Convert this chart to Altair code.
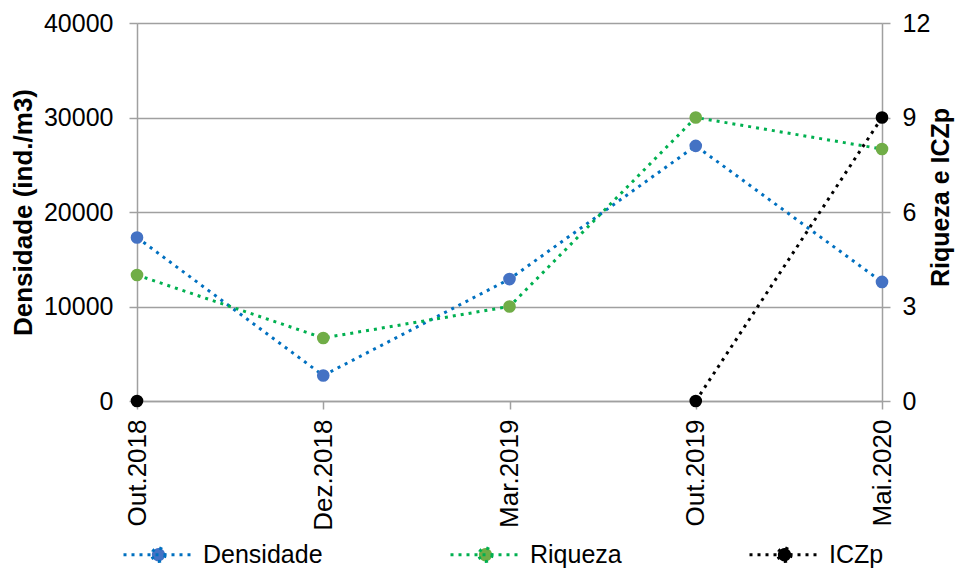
import math
import altair as alt
import pandas as pd

dates = ["Out.2018", "Dez.2018", "Mar.2019", "Out.2019", "Mai.2020"]
densidade = [17300, 2700, 12900, 27000, 12600]
riqueza = [4, 2, 3, 9, 8]
iczp = [0, None, None, 0, 9]

series_names = ["Densidade", "Riqueza", "ICZp"]
line_colors = ["#0070C0", "#00B050", "#000000"]
marker_colors = ["#4472C4", "#70AD47", "#000000"]

rows = []
for d, v in zip(dates, densidade):
    rows.append({"date": d, "series": "Densidade", "value": v})
for d, v in zip(dates, riqueza):
    rows.append({"date": d, "series": "Riqueza", "value": v})
for d, v in zip(dates, iczp):
    rows.append({"date": d, "series": "ICZp", "value": v})
df = pd.DataFrame(rows)

FONT = "Liberation Sans"
GRID = "#A0A0A0"

# legend symbol: dotted line with a filled circle in the middle
n = 24
rr = 0.19
circle = "M" + "L".join(
    f"{rr*math.cos(2*math.pi*k/n):.4f},{rr*math.sin(2*math.pi*k/n):.4f}" for k in range(n)
) + "Z"
sym_path = "M-1,0L1,0" + circle

def make_legend():
    return alt.Legend(
        orient="none", legendX=-15, legendY=495, direction="horizontal", title=None,
        symbolType=sym_path, symbolSize=4900, symbolStrokeWidth=3, symbolDash=[3, 5],
        symbolOpacity=1,
        labelFontSize=25, labelFont=FONT, labelColor="#000000", labelOffset=8,
        columnPadding=121, padding=0, labelLimit=400,
    )

x_enc = alt.X("date:N", sort=dates, scale=alt.Scale(type="point", padding=0),
              axis=alt.Axis(title=None, labelAngle=270, labelFontSize=26, labelFont=FONT,
                            labelColor="#000000", tickSize=8, tickColor=GRID, tickWidth=1.5,
                            domainColor=GRID, domainWidth=1.5, labelPadding=10, grid=False))
stroke_enc = alt.Stroke("series:N", scale=alt.Scale(domain=series_names, range=line_colors),
                        legend=make_legend())
fill_enc = alt.Fill("series:N", scale=alt.Scale(domain=series_names, range=marker_colors),
                    legend=make_legend())

y_left = alt.Y("value:Q", scale=alt.Scale(domain=[0, 40000], nice=False),
               axis=alt.Axis(orient="left", values=[0, 10000, 20000, 30000, 40000], format="d",
                             title="Densidade (ind./m3)", titleFontSize=26, titleFont=FONT,
                             titleFontWeight="bold", titleColor="#000000", titlePadding=7,
                             labelFontSize=25, labelFont=FONT, labelColor="#000000",
                             labelPadding=16, tickSize=8, tickColor=GRID, tickWidth=1.5,
                             domainColor=GRID, domainWidth=1.5,
                             grid=True, gridColor=GRID, gridWidth=1.5))
y_right = alt.Y("value:Q", scale=alt.Scale(domain=[0, 12], nice=False),
                axis=alt.Axis(orient="right", values=[0, 3, 6, 9, 12], format="d",
                              title="Riqueza e ICZp", titleFontSize=25, titleFont=FONT,
                              titleFontWeight="bold", titleColor="#000000",
                              titleAngle=270, titleX=46, titleY=174, titleBaseline="top",
                              titleAlign="center",
                              labelFontSize=25, labelFont=FONT, labelColor="#000000",
                              labelPadding=12, tickSize=8, tickColor=GRID, tickWidth=1.5,
                              domainColor=GRID, domainWidth=1.5, grid=False))

base = alt.Chart(df)
line_style = dict(strokeWidth=3, strokeDash=[3, 5], invalid="break-paths-filter-domains")

left_line = base.mark_line(**line_style).encode(x=x_enc, y=y_left, stroke=stroke_enc).transform_filter(
    alt.datum.series == "Densidade")
left_pts = base.mark_circle(size=160, opacity=1).encode(x=x_enc, y=y_left, fill=fill_enc).transform_filter(
    alt.datum.series == "Densidade")
right_line = base.mark_line(**line_style).encode(x=x_enc, y=y_right, stroke=stroke_enc).transform_filter(
    alt.datum.series != "Densidade")
right_pts = base.mark_circle(size=160, opacity=1).encode(x=x_enc, y=y_right, fill=fill_enc).transform_filter(
    alt.datum.series != "Densidade")

left = alt.layer(left_line, left_pts)
right = alt.layer(right_line, right_pts)

chart = alt.layer(left, right).resolve_scale(y="independent").properties(
    width=745, height=378,
    autosize=alt.AutoSizeParams(type="none"),
    padding={"left": 129, "top": 15, "right": 74, "bottom": 167},
).configure_view(stroke=None).configure(font=FONT)

chart.save("out.html", embed_options={"renderer": "svg", "actions": False})
